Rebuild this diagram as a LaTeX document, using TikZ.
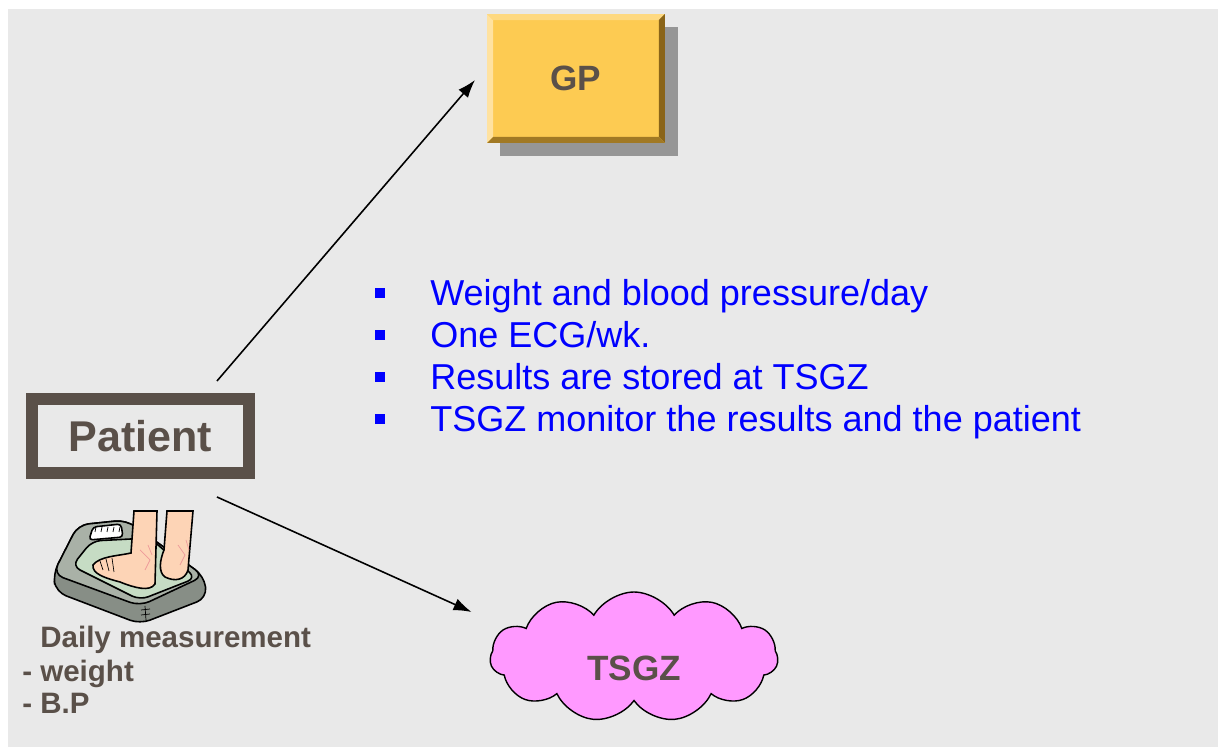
\documentclass[tikz,border=0pt]{standalone}
\usepackage{fontspec}
\setmainfont{Liberation Sans}
\usetikzlibrary{arrows,arrows.meta,calc,shapes,shadows}
\tikzset{>={Latex[length=0.36cm,width=0.25cm]}}
\definecolor{slide}{HTML}{E9E9E9}
\definecolor{ink}{HTML}{5A5049}
\definecolor{gpyellow}{HTML}{FDCB52}
\definecolor{gpdark}{HTML}{8A6418}
\definecolor{gplight}{HTML}{FFE2A0}
\definecolor{tsgzpink}{HTML}{FF99FF}
\definecolor{scalegrey}{HTML}{A9B1A7}
\definecolor{padgreen}{HTML}{C6DCC4}
\definecolor{skin}{HTML}{FDD4B6}
\definecolor{vein}{HTML}{EE9A9A}
\tikzstyle{gpbox}=[rectangle,fill=gpyellow,minimum width=3.56cm,minimum height=2.58cm,inner sep=0pt,outer sep=0pt,font=\fontsize{20}{24}\selectfont\bfseries,text=ink,drop shadow={shadow xshift=0.26cm,shadow yshift=-0.26cm,fill=black!55,opacity=0.7}]
\tikzstyle{patientbox}=[rectangle,draw=ink,line width=0.24cm,minimum width=4.34cm,minimum height=1.48cm,font=\fontsize{24.5}{28}\selectfont\bfseries,text=ink]
\tikzstyle{tsgzcloud}=[cloud,draw=black,fill=tsgzpink,line width=0.8pt,cloud puffs=11,cloud puff arc=120,aspect=2.2,minimum width=5.76cm,minimum height=2.6cm,text height=0.96cm,text depth=0pt,font=\fontsize{20}{24}\selectfont\bfseries,text=ink]
\tikzstyle{link}=[->,line width=0.9pt]
\tikzstyle{sqbullet}=[rectangle,fill=blue,minimum size=0.2cm,inner sep=0pt]
\tikzstyle{item}=[text=blue,font=\fontsize{20.5}{24}\selectfont,inner sep=0pt,anchor=base west]
\tikzstyle{caption}=[text=ink,font=\fontsize{16.8}{20}\selectfont\bfseries,inner sep=0pt,anchor=base west]

\begin{document}
\begin{tikzpicture}[x=0.02cm,y=-0.02cm]
	\fill[white] (0,0) rectangle (1218,749);
	\fill[slide] (8,9) rectangle (1218,747);
	\useasboundingbox (0,0) rectangle (1218,749);

	% GP box with bevelled edges
	\node[gpbox] (gp) at (576,78.5) {GP};
	\fill[gplight] (gp.north west) -- (gp.south west) -- ([shift={(6,-6)}]gp.south west) -- ([shift={(6,6)}]gp.north west) -- cycle;
	\fill[gplight!60!gpyellow] (gp.north west) -- (gp.north east) -- ([shift={(-6,6)}]gp.north east) -- ([shift={(6,6)}]gp.north west) -- cycle;
	\fill[gpdark] (gp.north east) -- (gp.south east) -- ([shift={(-6,-6)}]gp.south east) -- ([shift={(-6,6)}]gp.north east) -- cycle;
	\fill[gpdark!80!gpyellow] (gp.south west) -- (gp.south east) -- ([shift={(-6,-6)}]gp.south east) -- ([shift={(6,-6)}]gp.south west) -- cycle;

	\node[patientbox] (patient) at (140.5,436) {Patient};
	\node[tsgzcloud] (tsgz) at (634,657) {TSGZ};

	\draw[link] ([shift={(-38,-12)}]patient.north east) -- ([shift={(-12,1.5)}]gp.west);
	\draw[link] ([shift={(-38,18)}]patient.south east) -- ([shift={(-18,-45)}]tsgz.west);

	\foreach \txt [count=\i] in {Weight and blood pressure/day, One ECG/wk., Results are stored at TSGZ, TSGZ monitor the results and the patient} {
		\node[sqbullet] (dot\i) at (380,251+42*\i) {};
		\node[item] (item\i) at (430,264+42*\i) {\txt};
	}

	% bathroom scale with feet
	\begin{scope}[line width=0.9pt]
		\filldraw[fill=scalegrey!80!black,rounded corners=6pt] (53,574) -- (78,525) -- (126,520) -- (204,576) -- (207,598) -- (140,624) -- (56,592) -- cycle;
		\filldraw[fill=scalegrey,rounded corners=6pt] (53,574) -- (78,525) -- (126,520) -- (204,576) -- (140,606) -- cycle;
		\filldraw[fill=padgreen,rounded corners=5pt] (72,566) -- (92,541) -- (150,538) -- (196,578) -- (140,600) -- cycle;
		\filldraw[fill=white,rounded corners=2pt] (89,540) -- (93,527) -- (121,524) -- (123,537) -- cycle;
		\foreach \t in {96,102,...,120} \draw[thin] (\t,527) -- (\t-1,532);
		\draw[thin] (145,606) -- (146,620);
		\draw[thin] (141,610) -- (150,609);
		\draw[thin] (141,615) -- (150,614);
		% left leg and foot
		\filldraw[fill=skin] (134,511) -- (131,553) .. controls (118,556) and (100,556) .. (93,565) .. controls (92,574) and (105,578) .. (120,582) .. controls (135,588) and (150,592) .. (155,584) -- (157,511) -- cycle;
		\draw[thin] (100,561) -- (103,570);
		\draw[thin] (106,559) -- (109,571);
		\draw[thin] (112,558) -- (114,572);
		% right leg and foot
		\filldraw[fill=skin] (167,511) -- (164,550) .. controls (160,560) and (158,572) .. (165,577) .. controls (175,582) and (185,580) .. (188,570) -- (193,511) -- cycle;
		\draw[vein,thin] (140,550) -- (150,560) -- (145,570) (148,545) -- (152,555);
		\draw[vein,thin] (178,545) -- (185,555) -- (180,565) (186,540) -- (189,550);
	\end{scope}

	\node[caption] (daily) at (40,648) {Daily measurement};
	\node[caption] (weight) at (22,682) {- weight};
	\node[caption] (bp) at (22,714) {- B.P};
\end{tikzpicture}
\end{document}
